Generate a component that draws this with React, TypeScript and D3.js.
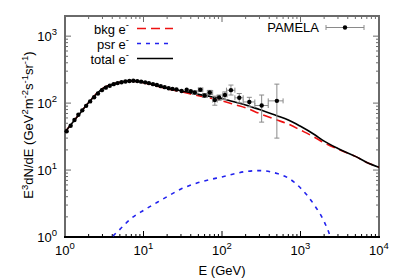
import React, { useEffect, useRef } from "react";
import * as d3 from "d3";

// model curves
const gridE = [1, 1.5, 2, 3, 4, 5, 7, 10, 15, 20, 30, 50, 70, 100, 150, 200, 300, 500, 700, 1000, 1500, 2000, 3000, 5000, 7000, 10000];
const totalFlux = [37, 67, 102, 165, 192, 205, 215, 205, 181, 168, 153, 135, 126, 116, 103, 94, 80, 65, 56, 45, 34, 27, 21, 16, 13, 11];
const bkgFlux = [37, 67, 102, 165, 191, 204, 213, 202, 178, 164, 148, 129, 119, 108, 94, 85, 70, 56, 48.5, 39.5, 31, 25.5, 20.5, 16, 13, 11];

const psrE = [3.5, 4, 5, 7, 10, 15, 20, 30, 50, 70, 100, 150, 200, 300, 500, 700, 1000, 1500, 2000, 2400, 2700];
const psrFlux = [0.8, 1.0, 1.3, 1.9, 2.5, 3.3, 4.0, 5.2, 6.5, 7.2, 7.9, 8.9, 9.5, 9.8, 8.9, 7.6, 5.4, 3.0, 1.7, 1.0, 0.6];

// PAMELA, low energy (error bars smaller than the markers)
const pamelaLowE = [1.05, 1.18, 1.32, 1.48, 1.66, 1.86, 2.09, 2.35, 2.63, 2.95, 3.31, 3.72, 4.17, 4.68, 5.25, 5.89, 6.61, 7.41, 8.32, 9.33, 10.5, 11.7, 13.2, 14.8, 16.6, 18.6, 20.9, 23.4, 26.3, 30.6, 35.5, 40];
const pamelaLowFlux = [38, 46, 56, 67, 78, 91, 106, 122, 139, 156, 170, 182, 192, 199, 205, 210, 214, 216, 213, 209, 204, 199, 192, 186, 179, 173, 167, 163, 160, 152, 158, 150];

// PAMELA, high energy with error bars
const pamelaE = [45, 53, 60, 70, 81, 92, 109, 130, 166, 223, 320, 500];
const pamelaEMin = [42, 50, 57, 65, 76, 87, 102, 114, 146, 186, 262, 388];
const pamelaEMax = [48, 57, 65, 76, 87, 102, 116, 146, 186, 262, 388, 600];
const pamelaFlux = [144, 158, 130, 144, 111, 121, 132, 156, 120, 104, 92, 108];
const pamelaLo = [136, 150, 122, 134, 93, 110, 113, 132, 101, 88, 52, 30];
const pamelaHi = [152, 167, 139, 155, 127, 132, 147, 186, 139, 122, 132, 192];

const xDecades = [0, 1, 2, 3, 4];
const yDecades = [0, 1, 2, 3];

const App = () => {
  const svgRef = useRef<SVGSVGElement>(null);

  useEffect(() => {
    const width = 399;
    const height = 279;
    const margin = { top: 16, right: 20, bottom: 42, left: 65 };
    const font = "'Liberation Sans', Arial, sans-serif";

    const svg = d3.select(svgRef.current);
    svg.selectAll("*").remove();

    const x = d3.scaleLog().domain([1, 1e4]).range([margin.left, width - margin.right]);
    const y = d3.scaleLog().domain([1, 2000]).range([height - margin.bottom, margin.top]);
    const [x0, x1] = x.range();
    const [y0, y1] = y.range();

    svg
      .append("defs")
      .append("clipPath")
      .attr("id", "plot-clip")
      .append("rect")
      .attr("x", x0)
      .attr("y", y1)
      .attr("width", x1 - x0)
      .attr("height", y0 - y1);

    // ticks, on all four sides, pointing in
    const frameColor = "#6a6a6a";
    const xTicks: { v: number; major: boolean }[] = [];
    xDecades.forEach((d) => {
      xTicks.push({ v: Math.pow(10, d), major: true });
      if (d < 4) for (let k = 2; k <= 9; k++) xTicks.push({ v: k * Math.pow(10, d), major: false });
    });
    const yTicks: { v: number; major: boolean }[] = [];
    yDecades.forEach((d) => {
      yTicks.push({ v: Math.pow(10, d), major: true });
      for (let k = 2; k <= 9; k++) {
        const v = k * Math.pow(10, d);
        if (v <= 2000) yTicks.push({ v, major: false });
      }
    });

    const ticks = svg.append("g").attr("fill", "none");
    xTicks.forEach((t) => {
      const len = t.major ? 6 : 3;
      const px = x(t.v);
      ticks.append("line").attr("x1", px).attr("x2", px).attr("y1", y0).attr("y2", y0 - len).attr("stroke", "#000");
      ticks.append("line").attr("x1", px).attr("x2", px).attr("y1", y1).attr("y2", y1 + len).attr("stroke", frameColor);
    });
    yTicks.forEach((t) => {
      const len = t.major ? 6 : 3;
      const py = y(t.v);
      ticks.append("line").attr("x1", x0).attr("x2", x0 + len).attr("y1", py).attr("y2", py).attr("stroke", frameColor);
      ticks.append("line").attr("x1", x1).attr("x2", x1 - len).attr("y1", py).attr("y2", py).attr("stroke", frameColor);
    });

    // frame
    svg
      .append("path")
      .attr("d", `M${x0},${y0}V${y1}H${x1}V${y0}`)
      .attr("fill", "none")
      .attr("stroke", frameColor)
      .attr("stroke-width", 2);
    svg
      .append("line")
      .attr("x1", x0 - 1)
      .attr("x2", x1 + 1)
      .attr("y1", y0)
      .attr("y2", y0)
      .attr("stroke", "#000")
      .attr("stroke-width", 2);

    // tick labels 10^n
    const power = (g: any, d: number) => {
      g.append("tspan").text("10");
      g.append("tspan").attr("dy", -6).attr("font-size", 9.5).text(String(d));
    };
    xDecades.forEach((d) => {
      const t = svg
        .append("text")
        .attr("x", x(Math.pow(10, d)))
        .attr("y", 255)
        .attr("text-anchor", "middle")
        .attr("font-family", font)
        .attr("font-size", 13);
      power(t, d);
    });
    yDecades.forEach((d) => {
      const t = svg
        .append("text")
        .attr("x", 57)
        .attr("y", y(Math.pow(10, d)) + 5)
        .attr("text-anchor", "end")
        .attr("font-family", font)
        .attr("font-size", 13);
      power(t, d);
    });

    // axis titles
    svg
      .append("text")
      .attr("x", (x0 + x1) / 2)
      .attr("y", 275)
      .attr("text-anchor", "middle")
      .attr("font-family", font)
      .attr("font-size", 13)
      .text("E (GeV)");

    const yLabel = svg
      .append("text")
      .attr("transform", "translate(33,125) rotate(-90)")
      .attr("text-anchor", "middle")
      .attr("font-family", font)
      .attr("font-size", 13);
    const parts: [string, boolean][] = [
      ["E", false], ["3", true], ["dN/dE (GeV", false], ["2", true], ["m", false], ["-2", true],
      ["s", false], ["-1", true], ["sr", false], ["-1", true], [")", false],
    ];
    let raised = false;
    parts.forEach(([s, sup]) => {
      const ts = yLabel.append("tspan").text(s);
      if (sup) ts.attr("font-size", 9.5);
      if (sup && !raised) ts.attr("dy", -5);
      if (!sup && raised) ts.attr("dy", 5);
      raised = sup;
    });

    // curves
    const line = d3
      .line<[number, number]>()
      .curve(d3.curveMonotoneX)
      .x((d) => x(d[0]))
      .y((d) => y(d[1]));

    const curves = svg.append("g").attr("clip-path", "url(#plot-clip)").attr("fill", "none");
    curves
      .append("path")
      .attr("d", line(gridE.map((e, i) => [e, bkgFlux[i]])))
      .attr("stroke", "#ee1111")
      .attr("stroke-width", 1.6)
      .attr("stroke-dasharray", "9,5");
    curves
      .append("path")
      .attr("d", line(psrE.map((e, i) => [e, psrFlux[i]])))
      .attr("stroke", "#2222ee")
      .attr("stroke-width", 1.6)
      .attr("stroke-dasharray", "4,5");
    curves
      .append("path")
      .attr("d", line(gridE.map((e, i) => [e, totalFlux[i]])))
      .attr("stroke", "#000")
      .attr("stroke-width", 1.6);

    // PAMELA data
    const errColor = "#8a8a8a";
    const cap = 2.5;
    const bars = svg.append("g").attr("stroke", errColor).attr("stroke-width", 1);
    pamelaE.forEach((e, i) => {
      const px = x(e);
      const py = y(pamelaFlux[i]);
      const yl = y(pamelaLo[i]);
      const yh = y(pamelaHi[i]);
      const xl = x(pamelaEMin[i]);
      const xh = x(pamelaEMax[i]);
      bars.append("line").attr("x1", px).attr("x2", px).attr("y1", yl).attr("y2", yh);
      bars.append("line").attr("x1", px - cap).attr("x2", px + cap).attr("y1", yl).attr("y2", yl);
      bars.append("line").attr("x1", px - cap).attr("x2", px + cap).attr("y1", yh).attr("y2", yh);
      bars.append("line").attr("x1", xl).attr("x2", xh).attr("y1", py).attr("y2", py);
      bars.append("line").attr("x1", xl).attr("x2", xl).attr("y1", py - cap).attr("y2", py + cap);
      bars.append("line").attr("x1", xh).attr("x2", xh).attr("y1", py - cap).attr("y2", py + cap);
    });

    const dots = svg.append("g").attr("fill", "#000");
    pamelaLowE.forEach((e, i) => {
      dots.append("circle").attr("cx", x(e)).attr("cy", y(pamelaLowFlux[i])).attr("r", 2.2);
    });
    pamelaE.forEach((e, i) => {
      dots.append("circle").attr("cx", x(e)).attr("cy", y(pamelaFlux[i])).attr("r", 2.2);
    });

    // legend
    const legend = svg.append("g").attr("font-family", font).attr("font-size", 13);
    const entries = [
      { label: "bkg e", color: "#ee1111", dash: "9,5" },
      { label: "psr e", color: "#2222ee", dash: "4,5" },
      { label: "total e", color: "#000", dash: null },
    ];
    entries.forEach((en, i) => {
      const ly = 28.5 + i * 15;
      const t = legend.append("text").attr("x", 129).attr("y", ly + 5).attr("text-anchor", "end");
      t.append("tspan").text(en.label);
      t.append("tspan").attr("dy", -6).attr("font-size", 9.5).text("-");
      const l = legend
        .append("line")
        .attr("x1", 137)
        .attr("x2", 173)
        .attr("y1", ly)
        .attr("y2", ly)
        .attr("stroke", en.color)
        .attr("stroke-width", 1.6);
      if (en.dash) l.attr("stroke-dasharray", en.dash);
    });

    legend.append("text").attr("x", 319).attr("y", 32).attr("text-anchor", "end").text("PAMELA");
    const ly = 27.5;
    legend.append("line").attr("x1", 326).attr("x2", 364).attr("y1", ly).attr("y2", ly).attr("stroke", errColor);
    legend.append("line").attr("x1", 326).attr("x2", 326).attr("y1", ly - cap).attr("y2", ly + cap).attr("stroke", errColor);
    legend.append("line").attr("x1", 364).attr("x2", 364).attr("y1", ly - cap).attr("y2", ly + cap).attr("stroke", errColor);
    legend.append("circle").attr("cx", 345).attr("cy", ly).attr("r", 2.2).attr("fill", "#000");
  }, []);

  return (
    <svg
      ref={svgRef}
      width={399}
      height={279}
      style={{ position: "absolute", left: 0, top: 0, background: "#fff" }}
    />
  );
};

export default App;
